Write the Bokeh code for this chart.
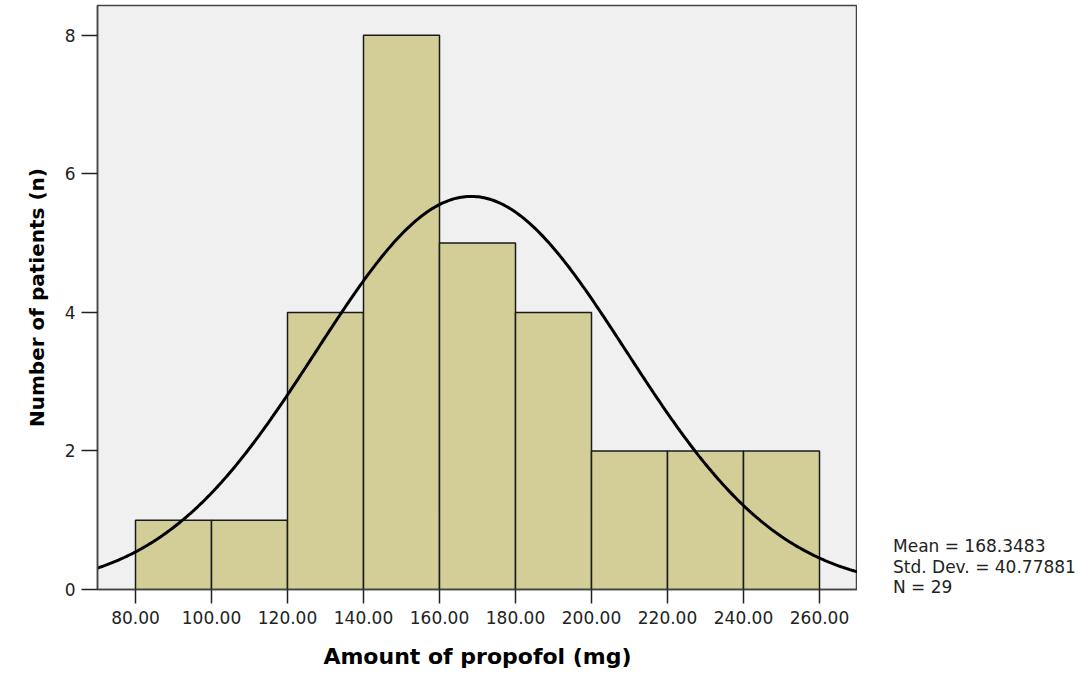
import numpy as np
from bokeh.plotting import figure
from bokeh.layouts import row
from bokeh.models import FixedTicker, NumeralTickFormatter, Range1d, Div
from bokeh.embed import file_html
from bokeh.resources import INLINE

# Histogram of propofol dose, 20 mg bins
bin_left = [80, 100, 120, 140, 160, 180, 200, 220, 240]
bin_right = [100, 120, 140, 160, 180, 200, 220, 240, 260]
counts = [1, 1, 4, 8, 5, 4, 2, 2, 2]

mean = 168.3483
std_dev = 40.77881
n_total = 29
bin_width = 20

x_ticks = [80, 100, 120, 140, 160, 180, 200, 220, 240, 260]
y_ticks = [0, 2, 4, 6, 8]

stats = ["Mean = 168.3483", "Std. Dev. = 40.77881", "N = 29"]

p = figure(width=857, height=676, output_backend="svg", toolbar_location=None,
           x_range=Range1d(70, 270), y_range=Range1d(0, 8.43),
           min_border_left=97, min_border_right=0, min_border_top=5, min_border_bottom=87)
p.background_fill_color = "#F0F0F0"
p.border_fill_color = "white"
p.outline_line_color = "#444444"
p.outline_line_width = 1.5
p.xgrid.visible = False
p.ygrid.visible = False

p.quad(left=bin_left, right=bin_right, bottom=0, top=counts,
       fill_color="#D3CE97", line_color="#1a1a1a", line_width=1.5)

# Normal curve scaled to counts per bin
xs = np.linspace(70, 270, 400)
ys = n_total * bin_width / (std_dev * np.sqrt(2 * np.pi)) * np.exp(-0.5 * ((xs - mean) / std_dev) ** 2)
p.line(xs, ys, line_color="black", line_width=3)

p.xaxis.ticker = FixedTicker(ticks=x_ticks)
p.xaxis.formatter = NumeralTickFormatter(format="0.00")
p.yaxis.ticker = FixedTicker(ticks=y_ticks)

for ax in (p.xaxis[0], p.yaxis[0]):
    ax.axis_line_color = "#444444"
    ax.axis_line_width = 1.5
    ax.major_tick_line_color = "#222222"
    ax.major_tick_line_width = 1.5
    ax.minor_tick_line_color = None
    ax.major_tick_in = 0
    ax.major_label_text_font = "DejaVu Sans"
    ax.major_label_text_font_size = "17px"
    ax.major_label_text_color = "#222222"
    ax.axis_label_text_font = "DejaVu Sans"
    ax.axis_label_text_font_style = "bold"
    ax.axis_label_text_color = "black"

p.xaxis.axis_label_text_font_size = "22px"
p.yaxis.axis_label_text_font_size = "20px"
p.xaxis.major_tick_out = 14
p.yaxis.major_tick_out = 16
p.xaxis.major_label_standoff = 7
p.yaxis.major_label_standoff = 6
p.xaxis.axis_label = "Amount of propofol (mg)"
p.yaxis.axis_label = "Number of patients (n)"
p.xaxis.axis_label_standoff = 17
p.yaxis.axis_label_standoff = 13

# Summary statistics block to the right of the chart
side = Div(text="<br>".join(stats), width=215, height=676, margin=0,
           styles={"padding-top": "536px", "padding-left": "36px",
                   "font-family": "DejaVu Sans", "font-size": "17px",
                   "line-height": "20.5px", "color": "#222222",
                   "white-space": "nowrap", "box-sizing": "border-box"})

layout = row(p, side, spacing=0)
open("out.html", "w").write(file_html(layout, INLINE))
